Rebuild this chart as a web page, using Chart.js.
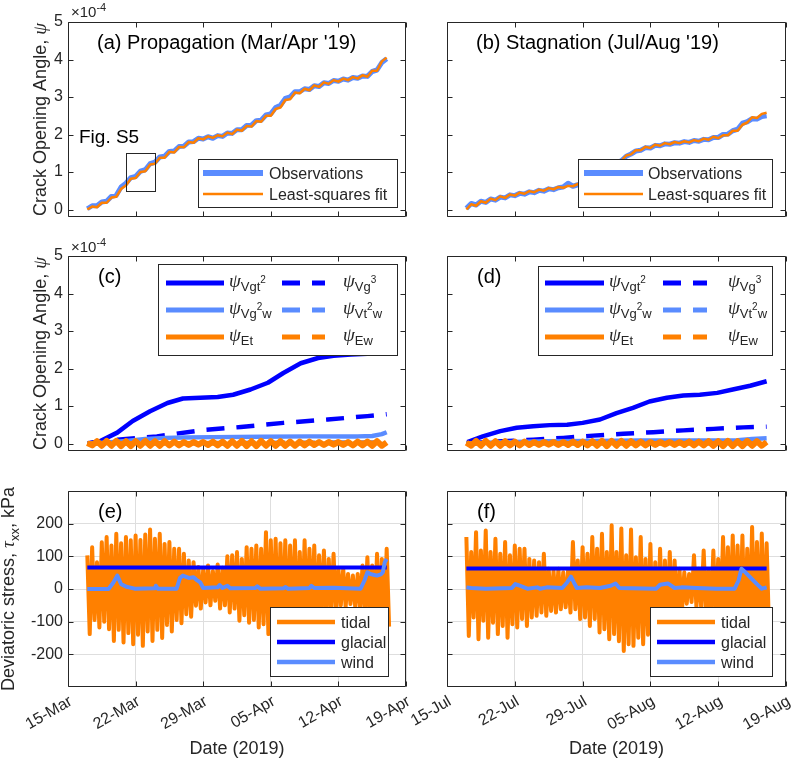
<!DOCTYPE html>
<html>
<head>
<meta charset="utf-8">
<script src="https://cdn.jsdelivr.net/npm/chart.js@4.4.1/dist/chart.umd.min.js"></script>
<style>
  html, body { margin: 0; padding: 0; background: #fff; }
  #fig { position: relative; width: 793px; height: 761px; overflow: hidden; background: #fff; }
  canvas { position: absolute; }
</style>
</head>
<body>
<div id="fig"></div>
<script>
// ---- axes ----
const tickDays = [0, 7, 14, 21, 28, 35];
const marchLabels = ["15-Mar", "22-Mar", "29-Mar", "05-Apr", "12-Apr", "19-Apr"];
const julyLabels = ["15-Jul", "22-Jul", "29-Jul", "05-Aug", "12-Aug", "19-Aug"];
const psiTicks = [0, 1, 2, 3, 4, 5];
const stressTicks = [-200, -100, 0, 100, 200];

// ---- (a)/(b) crack opening angle, x1e-4, sampled every half day from day 2 ----
const aObs = [0.02,0.10,0.10,0.20,0.22,0.35,0.38,0.60,0.70,0.85,
  0.88,1.02,1.06,1.22,1.26,1.40,1.42,1.55,1.56,1.68,
  1.69,1.80,1.81,1.90,1.88,1.94,1.90,1.97,1.95,2.04,
  2.03,2.13,2.13,2.24,2.25,2.37,2.38,2.52,2.55,2.72,
  2.78,2.96,3.00,3.14,3.14,3.22,3.20,3.30,3.28,3.38,
  3.36,3.44,3.42,3.48,3.45,3.52,3.50,3.56,3.55,3.68,
  3.72,3.92,4.02];
const aFit = [0.00,0.08,0.06,0.18,0.18,0.32,0.34,0.55,0.64,0.82,
  0.84,1.00,1.02,1.20,1.22,1.38,1.38,1.54,1.52,1.67,
  1.66,1.80,1.78,1.90,1.87,1.95,1.91,1.98,1.95,2.05,
  2.01,2.13,2.10,2.23,2.21,2.36,2.34,2.50,2.50,2.68,
  2.72,2.92,2.94,3.12,3.10,3.22,3.18,3.31,3.27,3.39,
  3.35,3.45,3.41,3.49,3.45,3.53,3.49,3.58,3.54,3.70,
  3.70,3.95,4.05];
const bObs = [0.03,0.16,0.12,0.22,0.19,0.28,0.25,0.33,0.31,0.39,
  0.37,0.43,0.41,0.47,0.45,0.51,0.49,0.55,0.53,0.58,
  0.60,0.70,0.62,0.66,0.66,0.73,0.76,0.85,0.90,1.02,
  1.10,1.22,1.30,1.42,1.48,1.56,1.58,1.65,1.64,1.71,
  1.70,1.75,1.74,1.78,1.77,1.81,1.79,1.84,1.82,1.87,
  1.86,1.92,1.92,2.00,2.01,2.10,2.14,2.30,2.34,2.42,
  2.41,2.48,2.50];
const bFit = [0.00,0.14,0.10,0.22,0.18,0.29,0.25,0.35,0.31,0.40,
  0.37,0.45,0.42,0.49,0.46,0.53,0.50,0.57,0.54,0.60,
  0.58,0.63,0.62,0.68,0.68,0.76,0.78,0.88,0.92,1.05,
  1.12,1.25,1.30,1.44,1.47,1.58,1.58,1.67,1.64,1.73,
  1.70,1.77,1.74,1.80,1.77,1.82,1.79,1.85,1.82,1.89,
  1.86,1.94,1.90,1.98,1.98,2.10,2.10,2.26,2.32,2.46,
  2.44,2.55,2.58];

// ---- (c) components ----
const cVgt2Days = [2,3.3,5.1,6.7,8.5,10.3,11.9,13.7,15.5,17.1,18.9,20.7,22.3,24.1,25.9,27.5,29.3,31,32.7,33];
const cVgt2 = [0,0.06,0.29,0.6,0.86,1.08,1.2,1.22,1.24,1.3,1.44,1.62,1.88,2.14,2.28,2.34,2.37,2.39,2.42,2.43];
const cVg3Days = [2,5.1,9.2,13.7,17.9,22.3,26.9,31,33];
const cVg3 = [0,0.1,0.19,0.35,0.44,0.55,0.64,0.73,0.78];
const cVg2wDays = [2,4,6,8,10,12,15,20,25,30,31.5,32.5,33];
const cVg2w = [0,0.03,0.07,0.12,0.15,0.16,0.17,0.18,0.19,0.19,0.2,0.25,0.3];
const cVt2wDays = [2,12,22,33];
const cVt2w = [0,0.01,0.02,0.03];
const cEwDays = [2,12,22,33];
const cEw = [0,0.01,0.01,0.02];
const cEt = [0.01,-0.05,0.06,-0.06,0.07,-0.06,0.07,-0.07,0.06,-0.07,
  0.06,-0.06,0.07,-0.06,0.06,-0.06,0.06,-0.05,0.05,-0.05,
  0.04,-0.04,0.04,-0.03,0.04,-0.04,0.05,-0.05,0.05,-0.06,
  0.06,-0.06,0.07,-0.07,0.06,-0.07,0.07,-0.06,0.06,-0.06,
  0.06,-0.06,0.05,-0.06,0.05,-0.05,0.05,-0.04,0.04,-0.04,
  0.04,-0.03,0.04,-0.04,0.04,-0.05,0.05,-0.05,0.05,-0.06,
  0.06,-0.06,0.03];

// ---- (d) components ----
const dVgt2Days = [2.1,3.7,5.5,7.2,8.9,10.6,12.4,14,15.8,17.5,19.2,20.9,22.7,24.4,26.1,27.9,29.5,31.3,33];
const dVgt2 = [0.04,0.19,0.33,0.42,0.46,0.49,0.5,0.55,0.64,0.81,0.95,1.12,1.22,1.28,1.3,1.35,1.44,1.54,1.66];
const dVg3Days = [2,5,8.9,12,15.1,18.2,21.3,24.4,27.5,30.6,33];
const dVg3 = [0,0.05,0.1,0.15,0.21,0.26,0.3,0.35,0.39,0.43,0.45];
const dVg2wDays = [2,5,10,15,20,25,30,31.5,33];
const dVg2w = [0,0.03,0.06,0.07,0.08,0.08,0.09,0.12,0.14];
const dVt2wDays = [2,17,33];
const dVt2w = [0,0.01,0.02];
const dEwDays = [2,17,33];
const dEw = [0,0.01,0.01];
const dEt = [0.02,-0.06,0.07,-0.06,0.07,-0.06,0.06,-0.06,0.06,-0.05,
  0.05,-0.05,0.05,-0.04,0.04,-0.04,0.04,-0.03,0.04,-0.04,
  0.04,-0.04,0.05,-0.04,0.05,-0.05,0.06,-0.06,0.07,-0.07,
  0.07,-0.06,0.07,-0.06,0.06,-0.05,0.05,-0.05,0.04,-0.04,
  0.04,-0.03,0.04,-0.04,0.04,-0.04,0.05,-0.05,0.05,-0.05,
  0.06,-0.06,0.06,-0.07,0.07,-0.07,0.06,-0.07,0.07,-0.06,
  0.06,-0.06,0.04];

// ---- (e)/(f) stresses, kPa: tidal highs and lows every half day from day 2 ----
const eHigh = [103,128,82,143,159,133,169,140,159,149,
  164,150,167,182,154,169,138,144,123,123,
  108,87,82,67,60,72,55,75,65,100,
  103,113,92,128,123,133,123,174,149,154,
  140,149,133,149,113,149,123,133,103,118,
  92,108,62,62,46,41,46,72,97,72,
  108,92,123];
const eLow = [-138,-95,-118,-100,-123,-159,-125,-164,-135,-169,
  -140,-174,-130,-159,-125,-150,-110,-130,-95,-105,
  -77,-85,-51,-60,-41,-50,-36,-60,-50,-72,
  -60,-97,-80,-103,-95,-118,-108,-138,-120,-154,
  -125,-150,-120,-140,-105,-125,-95,-110,-80,-95,
  -65,-75,-50,-55,-46,-58,-60,-80,-85,-100,
  -105,-120,-115];
const fHigh = [159,113,174,118,179,113,154,108,144,103,
  133,123,123,92,87,82,108,62,56,62,
  51,56,144,87,128,108,159,123,169,113,
  195,113,185,103,182,97,159,92,138,82,
  123,87,113,87,62,51,46,103,62,118,
  56,118,92,159,128,164,133,164,123,190,
  144,170,140];
const fLow = [-144,-87,-154,-97,-149,-103,-138,-113,-149,-108,
  -118,-92,-113,-87,-82,-72,-82,-67,-72,-62,
  -56,-72,-62,-92,-87,-113,-92,-133,-123,-154,
  -138,-160,-190,-169,-174,-149,-169,-140,-164,-130,
  -140,-110,-115,-90,-70,-45,-40,-55,-60,-75,
  -80,-95,-100,-115,-110,-125,-130,-140,-135,-150,
  -145,-140,-130];
const glacialDays = [2, 33];
const glacialE = [66, 66];
const glacialF = [63, 63];
const windDaysE = [2,4.2,4.7,5.1,5.5,6.05,6.9,9,9.1,9.3,11.25,11.6,11.9,12.5,13,13.3,13.7,14,15.5,15.7,
  16,16.5,16.8,19.4,19.6,19.9,22.3,22.5,22.8,25,25.2,25.5,27.5,30.3,30.7,31,31.3,32,32.4,32.6,32.8,33];
const windE = [0,0,20,41,15,7,1,2,10,1,1,34,41,34,36,28,20,3,5,12,
  3,10,2,3,8,1,2,6,1,3,10,3,4,1,26,51,46,41,45,51,82,92];
const windDaysF = [2,2.5,4,6.7,7.05,7.5,8.3,9.3,9.6,10.3,11.9,12.4,12.8,13.1,13.4,14.4,15.8,16.9,17.4,17.8,
  21.6,22,22.8,23.5,24.2,25.8,27.8,29.7,30.1,30.4,30.8,31.3,32,32.5,33];
const windF = [5,3,1,3,15,10,1,5,1,5,3,20,38,20,3,5,3,10,17,3,
  1,13,17,3,5,3,1,1,26,62,51,36,15,1,5];

// ---- style ----
const FONT = '"Liberation Sans", Arial, Helvetica, sans-serif';
const SERIF = '"Liberation Serif", "DejaVu Serif", serif';
const INK = "#262626";
const GRID = "#dedede";
const DARK = "#0000ff";
const LIGHT = "#5a8cff";
const ORANGE = "#ff8000";
const DASH = [18, 12];
const F = s => s + "px " + FONT;
const PSI = "italic 19px " + SERIF;
const SUB = F(13), SUP = F(10);
const TITLE = F(20);

Chart.defaults.font.family = FONT;
Chart.defaults.color = INK;

const COLS = [{ left: 0, width: 420, axisW: 68, padR: 14 }, { left: 400, width: 393, axisW: 47, padR: 7 }];
const ROWS = [{ top: 0, height: 232, padT: 22, axisH: 15 }, { top: 232, height: 232, padT: 24, axisH: 13 },
              { top: 464, height: 297, padT: 27, axisH: 74 }];

const onGrid = (vals, start, step) => vals.map((v, i) => ({ x: start + i * step, y: v }));
const pairs = (xs, ys) => xs.map((x, i) => ({ x: x, y: ys[i] }));
function tide(hi, lo) {
  const out = [];
  hi.forEach((h, i) => {
    out.push({ x: 2 + i * 0.5, y: h });
    out.push({ x: 2.25 + i * 0.5, y: lo[i] });
  });
  return out;
}
function line(data, color, width, order, dash) {
  return { data: data, borderColor: color, borderWidth: width, pointRadius: 0, fill: false,
           tension: 0, order: order, borderDash: dash || [], borderJoinStyle: "round" };
}

function rich(ctx, x, y, parts, align) {
  let w = 0;
  parts.forEach(p => { ctx.font = p[1]; w += ctx.measureText(p[0]).width; });
  let cx = align === "center" ? x - w / 2 : x;
  parts.forEach(p => {
    ctx.font = p[1];
    ctx.fillText(p[0], cx, y + (p[2] || 0));
    cx += ctx.measureText(p[0]).width;
  });
}
function ylabel(ctx, x, y, parts) {
  ctx.save();
  ctx.translate(x, y);
  ctx.rotate(-Math.PI / 2);
  rich(ctx, 0, 0, parts, "center");
  ctx.restore();
}
function exponent(ctx, x, y) {
  rich(ctx, x, y, [["×10", F(15)], ["-4", F(11), -6]]);
}
function legend(ctx, box, items) {
  ctx.fillStyle = "#fff";
  ctx.fillRect(box[0], box[1], box[2] - box[0], box[3] - box[1]);
  ctx.strokeStyle = INK;
  ctx.lineWidth = 1;
  ctx.strokeRect(box[0] + 0.5, box[1] + 0.5, box[2] - box[0], box[3] - box[1]);
  items.forEach(it => {
    ctx.save();
    ctx.beginPath();
    ctx.setLineDash(it.dash || []);
    ctx.strokeStyle = it.color;
    ctx.lineWidth = it.width;
    ctx.moveTo(it.x1, it.y);
    ctx.lineTo(it.x2, it.y);
    ctx.stroke();
    ctx.restore();
    ctx.fillStyle = INK;
    rich(ctx, it.tx, it.y + (it.psi ? 4 : 5.5), it.text);
  });
}
const psi = segs => [["ψ", PSI, 0]].concat(segs);
const psiItems = (x) => [
  { x1: x[0], x2: x[1], y: 283, color: DARK, width: 5, tx: x[2], psi: true, text: psi([["Vgt", SUB, 4], ["2", SUP, -4]]) },
  { x1: x[3], x2: x[4], y: 283, color: DARK, width: 5, dash: DASH, tx: x[5], psi: true, text: psi([["Vg", SUB, 4], ["3", SUP, -4]]) },
  { x1: x[0], x2: x[1], y: 310, color: LIGHT, width: 5, tx: x[2], psi: true, text: psi([["Vg", SUB, 4], ["2", SUP, -4], ["w", SUB, 4]]) },
  { x1: x[3], x2: x[4], y: 310, color: LIGHT, width: 5, dash: DASH, tx: x[5], psi: true, text: psi([["Vt", SUB, 4], ["2", SUP, -4], ["w", SUB, 4]]) },
  { x1: x[0], x2: x[1], y: 337, color: ORANGE, width: 5, tx: x[2], psi: true, text: psi([["Et", SUB, 4]]) },
  { x1: x[3], x2: x[4], y: 337, color: ORANGE, width: 5, dash: DASH, tx: x[5], psi: true, text: psi([["Ew", SUB, 4]]) }
];
const stressItems = (x1, x2, tx) => [
  { x1: x1, x2: x2, y: 622, color: ORANGE, width: 4.5, tx: tx, text: [["tidal", F(16)]] },
  { x1: x1, x2: x2, y: 642, color: DARK, width: 4.5, tx: tx, text: [["glacial", F(16)]] },
  { x1: x1, x2: x2, y: 662, color: LIGHT, width: 4.5, tx: tx, text: [["wind", F(16)]] }
];
const psiYLabel = [["Crack Opening Angle, ", F(18)], ["ψ", PSI]];
const tauYLabel = [["Deviatoric stress, ", F(18)], ["τ", PSI], ["xx", F(13), 5], [", kPa", F(18)]];

const panels = [
  { id: "a", col: 0, row: 0, yMin: -0.2, yMax: 5, yTicks: psiTicks, grid: false, xLabels: null,
    datasets: [line(onGrid(aObs, 2, 0.5), LIGHT, 5, 2), line(onGrid(aFit, 2, 0.5), ORANGE, 2.5, 1)],
    draw(ctx, X, Y) {
      ctx.fillStyle = "#000";
      ctx.font = TITLE; ctx.fillText("(a) Propagation (Mar/Apr '19)", 97, 48.5);
      ctx.font = F(19); ctx.fillText("Fig. S5", 79, 143);
      ctx.strokeStyle = INK; ctx.lineWidth = 1;
      const x0 = Math.round(X(6.05)) + 0.5, x1 = Math.round(X(9.05)) + 0.5;
      const y0 = Math.round(Y(1.5)) + 0.5, y1 = Math.round(Y(0.5)) + 0.5;
      ctx.strokeRect(x0, y0, x1 - x0, y1 - y0);
      ctx.fillStyle = INK;
      exponent(ctx, 71, 17);
      ylabel(ctx, 46, 119.5, psiYLabel);
      legend(ctx, [198, 159, 397, 207], [
        { x1: 203, x2: 263, y: 173, color: LIGHT, width: 6, tx: 269, text: [["Observations", F(16)]] },
        { x1: 203, x2: 263, y: 194, color: ORANGE, width: 2.5, tx: 269, text: [["Least-squares fit", F(16)]] }]);
    } },
  { id: "b", col: 1, row: 0, yMin: -0.2, yMax: 5, yTicks: psiTicks, grid: false, xLabels: null,
    datasets: [line(onGrid(bObs, 2, 0.5), LIGHT, 5, 2), line(onGrid(bFit, 2, 0.5), ORANGE, 2.5, 1)],
    draw(ctx) {
      ctx.fillStyle = "#000";
      ctx.font = TITLE; ctx.fillText("(b) Stagnation (Jul/Aug '19)", 476, 48.5);
      legend(ctx, [578, 159, 772, 207], [
        { x1: 584, x2: 643, y: 173, color: LIGHT, width: 6, tx: 648, text: [["Observations", F(16)]] },
        { x1: 584, x2: 643, y: 194, color: ORANGE, width: 2.5, tx: 648, text: [["Least-squares fit", F(16)]] }]);
    } },
  { id: "c", col: 0, row: 1, yMin: -0.2, yMax: 5, yTicks: psiTicks, grid: false, xLabels: null,
    datasets: [line(pairs(cVgt2Days, cVgt2), DARK, 4.5, 6), line(pairs(cVg3Days, cVg3), DARK, 4.5, 5, DASH),
               line(pairs(cVg2wDays, cVg2w), LIGHT, 4.5, 4), line(pairs(cVt2wDays, cVt2w), LIGHT, 4.5, 3, DASH),
               line(pairs(cEwDays, cEw), ORANGE, 4.5, 2, DASH), line(onGrid(cEt, 2, 0.5), ORANGE, 6, 1)],
    draw(ctx) {
      ctx.fillStyle = "#000";
      ctx.font = TITLE; ctx.fillText("(c)", 98, 282.5);
      ctx.fillStyle = INK;
      exponent(ctx, 71, 252);
      ylabel(ctx, 46, 353.5, psiYLabel);
      legend(ctx, [158, 264, 397, 355], psiItems([166, 224, 229, 282, 325, 343]));
    } },
  { id: "d", col: 1, row: 1, yMin: -0.2, yMax: 5, yTicks: psiTicks, grid: false, xLabels: null,
    datasets: [line(pairs(dVgt2Days, dVgt2), DARK, 4.5, 6), line(pairs(dVg3Days, dVg3), DARK, 4.5, 5, DASH),
               line(pairs(dVg2wDays, dVg2w), LIGHT, 4.5, 4), line(pairs(dVt2wDays, dVt2w), LIGHT, 4.5, 3, DASH),
               line(pairs(dEwDays, dEw), ORANGE, 4.5, 2, DASH), line(onGrid(dEt, 2, 0.5), ORANGE, 6, 1)],
    draw(ctx) {
      ctx.fillStyle = "#000";
      ctx.font = TITLE; ctx.fillText("(d)", 477, 282.5);
      legend(ctx, [538, 266, 772, 355], psiItems([545, 604, 609, 663, 707, 728]));
    } },
  { id: "e", col: 0, row: 2, yMin: -300, yMax: 300, yTicks: stressTicks, grid: true, xLabels: marchLabels,
    datasets: [line(tide(eHigh, eLow), ORANGE, 4, 3), line(pairs(glacialDays, glacialE), DARK, 4, 2),
               line(pairs(windDaysE, windE), LIGHT, 4, 1)],
    draw(ctx) {
      ctx.fillStyle = "#000";
      ctx.font = TITLE; ctx.fillText("(e)", 98, 517.5);
      ctx.fillStyle = INK;
      ylabel(ctx, 14, 589, tauYLabel);
      ctx.font = F(18); ctx.textAlign = "center"; ctx.fillText("Date (2019)", 237, 754); ctx.textAlign = "left";
      legend(ctx, [270, 607, 388, 676], stressItems(277, 335, 341));
    } },
  { id: "f", col: 1, row: 2, yMin: -300, yMax: 300, yTicks: stressTicks, grid: true, xLabels: julyLabels,
    datasets: [line(tide(fHigh, fLow), ORANGE, 4, 3), line(pairs(glacialDays, glacialF), DARK, 4, 2),
               line(pairs(windDaysF, windF), LIGHT, 4, 1)],
    draw(ctx) {
      ctx.fillStyle = "#000";
      ctx.font = TITLE; ctx.fillText("(f)", 477, 517.5);
      ctx.fillStyle = INK;
      ctx.font = F(18); ctx.textAlign = "center"; ctx.fillText("Date (2019)", 616.5, 754); ctx.textAlign = "left";
      legend(ctx, [650, 607, 772, 676], stressItems(657, 715, 721));
    } }
];

function frame(p) {
  const col = COLS[p.col], row = ROWS[p.row];
  return {
    id: "frame" + p.id,
    afterDraw(chart) {
      const ctx = chart.ctx, a = chart.chartArea, xs = chart.scales.x, ys = chart.scales.y;
      ctx.save();
      ctx.strokeStyle = INK;
      ctx.lineWidth = 1;
      const L = Math.round(a.left) + 0.5, R = Math.round(a.right) - 0.5;
      const T = Math.round(a.top) + 0.5, B = Math.round(a.bottom) - 0.5;
      ctx.beginPath();
      ctx.rect(L, T, R - L, B - T);
      tickDays.forEach(d => {
        const x = Math.round(xs.getPixelForValue(d)) + 0.5;
        ctx.moveTo(x, B); ctx.lineTo(x, B - 5);
        ctx.moveTo(x, T); ctx.lineTo(x, T + 5);
      });
      p.yTicks.forEach(v => {
        const y = Math.round(ys.getPixelForValue(v)) + 0.5;
        ctx.moveTo(L, y); ctx.lineTo(L + 5, y);
        ctx.moveTo(R, y); ctx.lineTo(R - 5, y);
      });
      ctx.stroke();
      ctx.translate(-col.left, -row.top);
      ctx.textBaseline = "alphabetic";
      ctx.textAlign = "left";
      const X = v => xs.getPixelForValue(v) + col.left;
      const Y = v => ys.getPixelForValue(v) + row.top;
      p.draw(ctx, X, Y);
      ctx.restore();
    }
  };
}

const fig = document.getElementById("fig");
panels.forEach(p => {
  const col = COLS[p.col], row = ROWS[p.row];
  const cv = document.createElement("canvas");
  cv.width = col.width;
  cv.height = row.height;
  cv.style.left = col.left + "px";
  cv.style.top = row.top + "px";
  cv.style.width = col.width + "px";
  cv.style.height = row.height + "px";
  fig.appendChild(cv);
  new Chart(cv, {
    type: "line",
    data: { datasets: p.datasets },
    options: {
      responsive: false,
      animation: false,
      events: [],
      layout: { padding: { top: row.padT, right: col.padR, left: 0, bottom: 0 } },
      plugins: { legend: { display: false }, tooltip: { enabled: false } },
      scales: {
        x: {
          type: "linear", min: 0, max: 35,
          afterBuildTicks: s => { s.ticks = tickDays.map(v => ({ value: v })); },
          afterFit: s => { s.height = row.axisH; s.paddingLeft = 0; s.paddingRight = 0; },
          grid: { display: p.grid, color: GRID, drawTicks: false },
          border: { display: false },
          ticks: {
            display: !!p.xLabels, autoSkip: false, minRotation: 30, maxRotation: 30,
            padding: 5, labelOffset: 3, color: INK, font: { size: 16 },
            callback: (v, i) => (p.xLabels ? p.xLabels[i] : "")
          }
        },
        y: {
          type: "linear", min: p.yMin, max: p.yMax,
          afterBuildTicks: s => { s.ticks = p.yTicks.map(v => ({ value: v })); },
          afterFit: s => { s.width = col.axisW; s.paddingTop = 0; s.paddingBottom = 0; },
          grid: { display: p.grid, color: GRID, drawTicks: false },
          border: { display: false },
          ticks: { display: p.col === 0, padding: 5, color: INK, font: { size: 16 }, callback: v => String(v) }
        }
      }
    },
    plugins: [frame(p)]
  });
});
</script>
</body>
</html>
